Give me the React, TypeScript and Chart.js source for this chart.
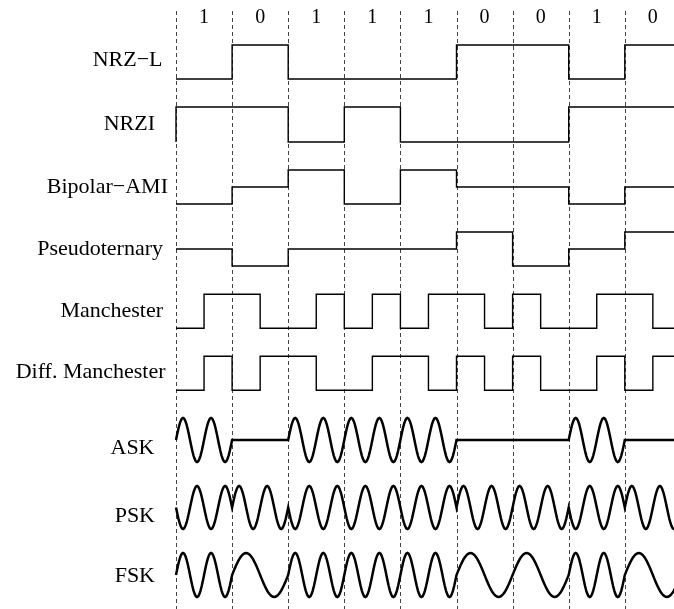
import React, { useEffect, useRef } from "react";
import { Chart, registerables } from "chart.js";

Chart.register(...registerables);

// ---- data ----
const BITS = ["1", "0", "1", "1", "1", "0", "0", "1", "0"];
const ROW_LABELS = [
  "NRZ\u2212L",
  "NRZI",
  "Bipolar\u2212AMI",
  "Pseudoternary",
  "Manchester",
  "Diff. Manchester",
  "ASK",
  "PSK",
  "FSK",
];
// per-bit levels (1 high, 0 zero, -1 low)
const NRZL = [-1, 1, -1, -1, -1, 1, 1, -1, 1];
const NRZI_START = -1;
const NRZI = [1, 1, -1, 1, -1, -1, -1, 1, 1];
const AMI = [-1, 0, 1, -1, 1, 0, 0, -1, 0];
const PSEUDO = [0, -1, 0, 0, 0, 1, -1, 0, 1];
// per half-bit levels
const MANCH = [-1, 1, 1, -1, -1, 1, -1, 1, -1, 1, 1, -1, 1, -1, -1, 1, 1, -1];
const DIFF_MANCH = [-1, 1, -1, 1, 1, -1, -1, 1, 1, -1, 1, -1, 1, -1, -1, 1, -1, 1];
// per-bit carrier parameters
const ASK_AMP = [1, 0, 1, 1, 1, 0, 0, 1, 0];
const PSK_SIGN = [-1, 1, -1, -1, -1, 1, 1, -1, 1];
const FSK_CYCLES = [2, 1, 2, 2, 2, 1, 1, 2, 1];
const CARRIER_CYCLES = 2;
const BOUNDARIES = [0, 1, 2, 3, 4, 5, 6, 7, 8];

// ---- layout (not data) ----
const ROW_CENTER = [62, 124.5, 187, 249, 311.3, 373.3, 440, 507.5, 575];
const ROW_AMP = [17, 17.5, 17, 17, 17, 17, 22, 21.5, 22];
const LABEL_RIGHT = [162.5, 155, 168, 163, 163, 165.5, 154.5, 155, 155];
const LABEL_BASE = [65.7, 130, 193.3, 255, 317.3, 378.3, 454, 521.7, 581.7];
const X0 = 176;
const BIT_W = 56.1;
const W = 674;
const H = 609;
const TOP = 11;
const SAMPLES = 48;

type P = { x: number; y: number };

function stepPoints(levels: number[], seg: number, row: number, start?: number): P[] {
  const c = ROW_CENTER[row];
  const a = ROW_AMP[row];
  const pts: P[] = [];
  if (start !== undefined) pts.push({ x: 0, y: c - start * a });
  levels.forEach((l, i) => {
    pts.push({ x: i * seg, y: c - l * a });
    pts.push({ x: (i + 1) * seg, y: c - l * a });
  });
  return pts;
}

function wavePoints(row: number, fn: (bit: number, t: number) => number): P[] {
  const c = ROW_CENTER[row];
  const a = ROW_AMP[row];
  const pts: P[] = [];
  BITS.forEach((_, i) => {
    for (let k = 0; k <= SAMPLES; k++) {
      const t = k / SAMPLES;
      pts.push({ x: i + t, y: c - fn(i, t) * a });
    }
  });
  return pts;
}

const overlay = {
  id: "overlay",
  beforeDatasetsDraw(chart: any) {
    const { ctx, chartArea, scales } = chart;
    const xs = scales.x;
    ctx.save();
    ctx.strokeStyle = "#444";
    ctx.lineWidth = 1;
    ctx.setLineDash([4, 3]);
    BOUNDARIES.forEach((b) => {
      const px = Math.round(xs.getPixelForValue(b)) + 0.5;
      ctx.beginPath();
      ctx.moveTo(px, chartArea.top);
      ctx.lineTo(px, chartArea.bottom);
      ctx.stroke();
    });
    ctx.restore();
  },
  afterDatasetsDraw(chart: any) {
    const { ctx, scales } = chart;
    const xs = scales.x;
    ctx.save();
    ctx.fillStyle = "#000";
    ctx.textBaseline = "alphabetic";
    ctx.font = '20px "Liberation Serif", "Times New Roman", serif';
    ctx.textAlign = "center";
    BITS.forEach((b, i) => {
      ctx.fillText(b, xs.getPixelForValue(i + 0.5), 23);
    });
    ctx.font = '22px "Liberation Serif", "Times New Roman", serif';
    ctx.textAlign = "right";
    ROW_LABELS.forEach((l, i) => {
      ctx.fillText(l, LABEL_RIGHT[i], LABEL_BASE[i]);
    });
    ctx.restore();
  },
};

export default function App() {
  const ref = useRef<HTMLCanvasElement | null>(null);
  useEffect(() => {
    if (!ref.current) return;
    const stepStyle = { borderColor: "#000", borderWidth: 1.4, pointRadius: 0, tension: 0, fill: false };
    const waveStyle = { borderColor: "#000", borderWidth: 2.5, pointRadius: 0, tension: 0, fill: false };
    const datasets: any[] = [
      { label: ROW_LABELS[0], data: stepPoints(NRZL, 1, 0), ...stepStyle },
      { label: ROW_LABELS[1], data: stepPoints(NRZI, 1, 1, NRZI_START), ...stepStyle },
      { label: ROW_LABELS[2], data: stepPoints(AMI, 1, 2), ...stepStyle },
      { label: ROW_LABELS[3], data: stepPoints(PSEUDO, 1, 3), ...stepStyle },
      { label: ROW_LABELS[4], data: stepPoints(MANCH, 0.5, 4), ...stepStyle },
      { label: ROW_LABELS[5], data: stepPoints(DIFF_MANCH, 0.5, 5), ...stepStyle },
      {
        label: ROW_LABELS[6],
        data: wavePoints(6, (i, t) => ASK_AMP[i] * Math.sin(2 * Math.PI * CARRIER_CYCLES * t)),
        ...waveStyle,
      },
      {
        label: ROW_LABELS[7],
        data: wavePoints(7, (i, t) => PSK_SIGN[i] * Math.sin(2 * Math.PI * CARRIER_CYCLES * t)),
        ...waveStyle,
      },
      {
        label: ROW_LABELS[8],
        data: wavePoints(8, (i, t) => Math.sin(2 * Math.PI * FSK_CYCLES[i] * t)),
        ...waveStyle,
      },
    ];
    const chart = new Chart(ref.current, {
      type: "line",
      data: { datasets },
      options: {
        animation: false,
        responsive: false,
        maintainAspectRatio: false,
        devicePixelRatio: 1,
        parsing: false,
        normalized: true,
        layout: { padding: { top: TOP, left: 0, right: 0, bottom: 0 } },
        plugins: { legend: { display: false }, tooltip: { enabled: false } },
        events: [],
        scales: {
          x: {
            type: "linear",
            display: false,
            min: -X0 / BIT_W,
            max: (W - X0) / BIT_W,
          },
          y: {
            type: "linear",
            display: false,
            reverse: true,
            min: TOP,
            max: H,
          },
        },
      },
      plugins: [overlay],
    });
    return () => chart.destroy();
  }, []);
  return (
    <div style={{ position: "absolute", left: 0, top: 0, width: W, height: H, background: "#fff" }}>
      <canvas ref={ref} width={W} height={H} style={{ width: W, height: H, display: "block" }} />
    </div>
  );
}
